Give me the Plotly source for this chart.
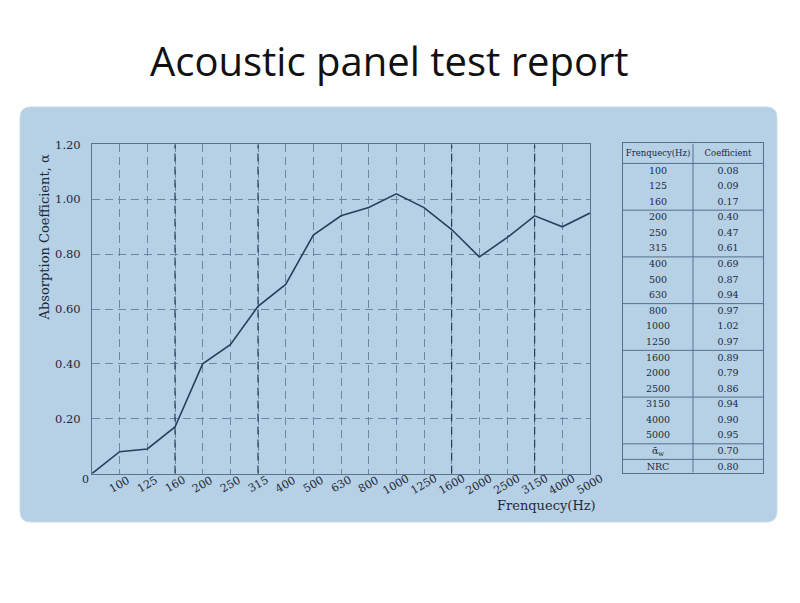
import plotly.graph_objects as go

# === Data ===
freq_labels = ["100", "125", "160", "200", "250", "315", "400", "500", "630",
               "800", "1000", "1250", "1600", "2000", "2500", "3150", "4000", "5000"]
alpha = [0.08, 0.09, 0.17, 0.40, 0.47, 0.61, 0.69, 0.87, 0.94,
         0.97, 1.02, 0.97, 0.89, 0.79, 0.86, 0.94, 0.90, 0.95]
alpha_w = 0.70
nrc = 0.80
y_ticks = [0.20, 0.40, 0.60, 0.80, 1.00, 1.20]
dark_grid_freqs = ["160", "315", "1600", "3150"]
table_rows_per_group = 3

W, H = 800, 603
OFFX, OFFY = 8, 11  # page offset of the plot div


def px(x):
    return (x - OFFX) / W


def py(y):
    return (H - (y - OFFY)) / H


fig = go.Figure()

# === Curve (origin at 0, then one point per band) ===
x_pos = list(range(len(freq_labels) + 1))
fig.add_trace(go.Scatter(
    x=x_pos, y=[0.0] + alpha,
    mode='lines',
    line=dict(color='#2a3f5e', width=1.6),
    showlegend=False, hoverinfo='skip',
    xaxis='x', yaxis='y'
))

# === Table (x2 / y2) ===
col_freq = freq_labels + ["ᾱ<sub>w</sub>", "NRC"]
col_coef = ["%.2f" % v for v in alpha + [alpha_w, nrc]]
rows = list(range(len(col_freq)))
tfont = dict(family='DejaVu Serif', size=9.5, color='#1e2a3a')
fig.add_trace(go.Scatter(x=[0.5] * len(rows), y=rows, mode='text', text=col_freq,
                         textfont=tfont, showlegend=False, hoverinfo='skip',
                         xaxis='x2', yaxis='y2'))
fig.add_trace(go.Scatter(x=[1.5] * len(rows), y=rows, mode='text', text=col_coef,
                         textfont=tfont, showlegend=False, hoverinfo='skip',
                         xaxis='x2', yaxis='y2'))
fig.add_trace(go.Scatter(x=[0.5, 1.5], y=[-1.14, -1.14], mode='text',
                         text=["Frenquecy(Hz)", "Coefficient"],
                         textfont=dict(family='DejaVu Serif', size=8.5, color='#1e2a3a'),
                         showlegend=False, hoverinfo='skip', xaxis='x2', yaxis='y2'))

shapes = []
# panel background
x0, x1, y0, y1, r = 20, 777, 104, 524, 11
path = (f"M {px(x0 + r)},{py(y0)} L {px(x1 - r)},{py(y0)} Q {px(x1)},{py(y0)} {px(x1)},{py(y0 + r)} "
        f"L {px(x1)},{py(y1 - r)} Q {px(x1)},{py(y1)} {px(x1 - r)},{py(y1)} "
        f"L {px(x0 + r)},{py(y1)} Q {px(x0)},{py(y1)} {px(x0)},{py(y1 - r)} "
        f"L {px(x0)},{py(y0 + r)} Q {px(x0)},{py(y0)} {px(x0 + r)},{py(y0)} Z")
shapes.append(dict(type='path', path=path, xref='paper', yref='paper',
                   fillcolor='#b6d0e5', line=dict(color='#c9dde9', width=1), layer='below'))

# darker grid lines at the group boundaries
for f in dark_grid_freqs:
    i = freq_labels.index(f) + 1
    shapes.append(dict(type='line', xref='x', yref='y', x0=i, x1=i, y0=0, y1=1.2,
                       line=dict(color='#1c3250', width=1.1, dash='8px,5px'), layer='between'))

# table lines
tline = dict(color='#55708e', width=1)
shapes.append(dict(type='line', xref='x2', yref='y2', x0=1, x1=1, y0=-1.78, y1=19.35, line=tline))
seps = [-0.5] + [g - 0.5 for g in range(table_rows_per_group, len(freq_labels) + 1, table_rows_per_group)] + [len(freq_labels) + 0.5]
for s in seps:
    shapes.append(dict(type='line', xref='x2', yref='y2', x0=0, x1=2, y0=s, y1=s, line=tline))

# === Annotations ===
annotations = []
lab_font = dict(family='DejaVu Serif', size=11, color='#1e2a3a')
for i, lab in enumerate(freq_labels, start=1):
    annotations.append(dict(x=i, y=0, xref='x', yref='y', text=lab, showarrow=False,
                            textangle=-30, yshift=-11, xanchor='center', yanchor='middle',
                            font=lab_font))
annotations.append(dict(x=0, y=0, xref='x', yref='y', text='0', showarrow=False,
                        xanchor='center', yanchor='middle',
                        xshift=-7, yshift=-6, font=lab_font))
annotations.append(dict(x=px(44), y=py(236), xref='paper', yref='paper',
                        xanchor='center', yanchor='middle',
                        text='Absorption Coefficient, α', showarrow=False, textangle=-90,
                        font=dict(family='DejaVu Serif', size=13, color='#1e2a3a')))
annotations.append(dict(x=px(598), y=py(507), xref='paper', yref='paper',
                        xanchor='right', yanchor='middle',
                        text='Frenquecy(Hz)', showarrow=False,
                        font=dict(family='DejaVu Serif', size=13, color='#1e2a3a')))
annotations.append(dict(x=px(389), y=py(57), xref='paper', yref='paper',
                        xanchor='center', yanchor='middle',
                        text='Acoustic panel test report', showarrow=False,
                        font=dict(family='Open Sans', size=40, color='#111111')))

grid = dict(showgrid=True, gridcolor='#6c87a3', gridwidth=1, griddash='8px,5px',
            showline=True, linecolor='#5a7290', linewidth=1, mirror=True,
            zeroline=False, ticks='', fixedrange=True)

fig.update_layout(
    width=W, height=H,
    margin=dict(l=0, r=0, t=0, b=0),
    paper_bgcolor='white',
    plot_bgcolor='rgba(0,0,0,0)',
    showlegend=False,
    xaxis=dict(domain=[px(92), px(590)], range=[0, 18], tickvals=x_pos[1:],
               showticklabels=False, **grid),
    yaxis=dict(domain=[py(475), py(142)], range=[0, 1.2], tickvals=y_ticks,
               ticktext=["%.2f" % v for v in y_ticks], ticklabelstandoff=8,
               tickfont=dict(family='DejaVu Serif', size=11.5, color='#1e2a3a'), **grid),
    xaxis2=dict(domain=[px(623), px(763)], range=[0, 2], anchor='y2',
                showgrid=False, zeroline=False, showticklabels=False,
                showline=True, mirror=True, linecolor='#55708e', linewidth=1, fixedrange=True),
    yaxis2=dict(domain=[py(474), py(141)], range=[19.35, -1.78], anchor='x2',
                showgrid=False, zeroline=False, showticklabels=False,
                showline=True, mirror=True, linecolor='#55708e', linewidth=1, fixedrange=True),
    shapes=shapes,
    annotations=annotations,
)

fig.write_html("out.html")
